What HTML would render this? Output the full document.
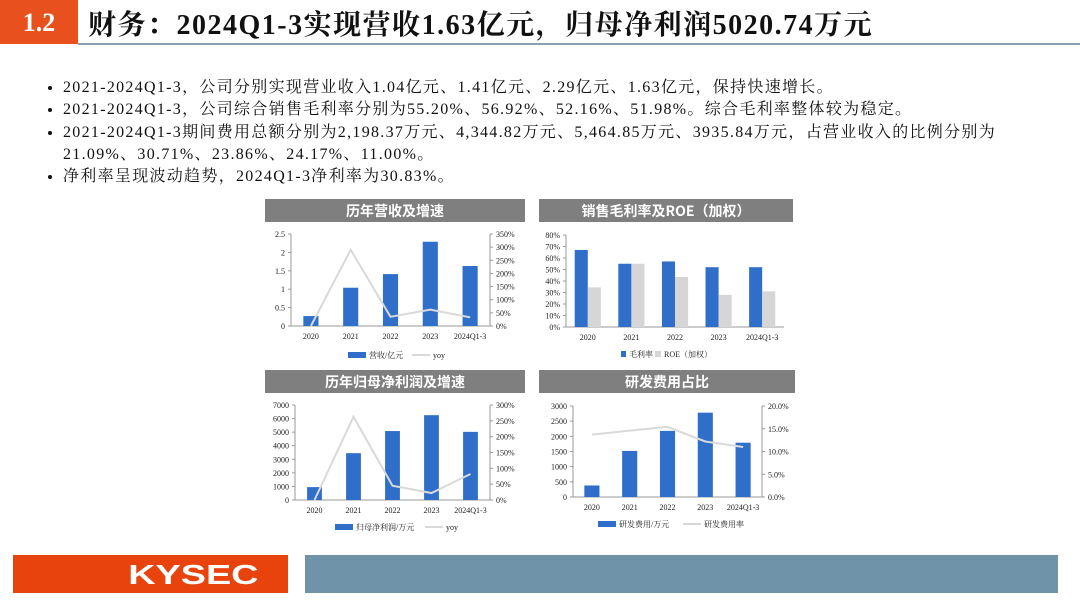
<!DOCTYPE html>
<html><head><meta charset="utf-8">
<style>
body{margin:0;width:1080px;height:607px;overflow:hidden;background:#fff;position:relative;font-family:"Liberation Serif","Noto Serif CJK SC",serif}
.hdr{position:absolute;left:0;top:0;width:78px;height:44px;background:#e8501e;color:#fff;font:bold 26px "Liberation Serif",serif;text-align:center;line-height:46px}
.title{position:absolute;left:88px;top:3px;font:bold 28px "Liberation Serif","Noto Serif CJK SC",serif;letter-spacing:1.5px;color:#111;white-space:nowrap}
.rule{position:absolute;left:78px;top:43px;width:1002px;height:2px;background:#8aa0b0}
ul{position:absolute;left:35px;top:77px;margin:0;padding:0 0 0 28px;width:1040px;font-size:16px;letter-spacing:1.3px;line-height:22.3px;color:#111;white-space:nowrap}
li{list-style:disc}
.f1{position:absolute;left:13px;top:555px;width:275px;height:38px;background:#e8430c}
.f1 span{position:absolute;right:30px;top:0;color:#fff;font:bold 28px "Liberation Sans",sans-serif;line-height:39px;transform:scaleX(1.35);transform-origin:right center}
.f2{position:absolute;left:305px;top:555px;width:753px;height:38px;background:#6f93a8}
svg{position:absolute;left:0;top:0}
</style></head><body>
<div class="hdr">1.2</div>
<div class="title">财务：2024Q1-3实现营收1.63亿元，归母净利润5020.74万元</div>
<div class="rule"></div>
<ul>
<li>2021-2024Q1-3，公司分别实现营业收入1.04亿元、1.41亿元、2.29亿元、1.63亿元，保持快速增长。</li>
<li>2021-2024Q1-3，公司综合销售毛利率分别为55.20%、56.92%、52.16%、51.98%。综合毛利率整体较为稳定。</li>
<li>2021-2024Q1-3期间费用总额分别为2,198.37万元、4,344.82万元、5,464.85万元、3935.84万元，占营业收入的比例分别为<br>21.09%、30.71%、23.86%、24.17%、11.00%。</li>
<li>净利率呈现波动趋势，2024Q1-3净利率为30.83%。</li>
</ul>
<svg id="charts" width="1080" height="607"></svg>
<div class="f1"><span>KYSEC</span></div>
<div class="f2"></div>
<script>
const categories=["2020","2021","2022","2023","2024Q1-3"];
const revenue=[0.27,1.04,1.41,2.29,1.63];
const revenueYoy=[0,290,35,62,33];
const revTicksL=["0","0.5","1","1.5","2","2.5"];
const revTicksR=["0%","50%","100%","150%","200%","250%","300%","350%"];
const grossMargin=[67,55,57,52,52];
const roe=[34.5,55,43.5,28,31];
const marginTicks=["0%","10%","20%","30%","40%","50%","60%","70%","80%"];
const netProfit=[950,3450,5080,6250,5020];
const netYoy=[0,263,45,22,82];
const npTicksL=["0","1000","2000","3000","4000","5000","6000","7000"];
const npTicksR=["0%","50%","100%","150%","200%","250%","300%"];
const rdCost=[380,1520,2180,2780,1790];
const rdRate=[13.7,14.6,15.4,12.2,11.0];
const rdTicksL=["0","500","1000","1500","2000","2500","3000"];
const rdTicksR=["0.0%","5.0%","10.0%","15.0%","20.0%"];

const NS="http://www.w3.org/2000/svg";
const svg=document.getElementById('charts');
const BLUE="#2f6fca",GRAY="#d6d6d6",LINE="#d9d9d9";
function el(tag,attrs,parent,text){const e=document.createElementNS(NS,tag);for(const k in attrs)e.setAttribute(k,attrs[k]);if(text!==undefined)e.textContent=text;(parent||svg).appendChild(e);return e;}
const FONT='"Liberation Serif","Noto Serif CJK SC",serif';

function chart(c){
  const g=el('g',{});
  
  
  const tb=el('rect',{x:c.tx,y:c.ty,width:c.tw,height:23,fill:'#7f7f7f'},g);
  
  
  const tt=el('text',{x:c.tx+c.tw/2,y:c.ty+17,'text-anchor':'middle','font-size':14,'font-weight':'bold',fill:'#fff','font-family':'"Noto Sans CJK SC",sans-serif'},g,c.title);
  
  
  const {x0,x1,y0,y1}=c;
  const lmax=c.lmax, rmax=c.rmax;
  const yL=v=>y0-(v/lmax)*(y0-y1);
  const yR=v=>y0-(v/rmax)*(y0-y1);
  const cw=(x1-x0)/categories.length;
  const cx=i=>x0+cw*(i+0.5);
  el('line',{x1:x0,y1:y1,x2:x0,y2:y0,stroke:'#999','stroke-width':1},g);
  el('line',{x1:x0,y1:y0,x2:x1,y2:y0,stroke:'#999','stroke-width':1},g);
  c.ticksL.forEach((t,i)=>{const y=y0-i*(y0-y1)/(c.ticksL.length-1);
    el('line',{x1:x0-3,y1:y,x2:x0,y2:y,stroke:'#999'},g);
    const tx=el('text',{x:x0-6,y:y+3,'text-anchor':'end','font-size':8,fill:'#222','font-family':FONT},g,t);
    
    });
  if(c.ticksR){
    el('line',{x1:x1,y1:y1,x2:x1,y2:y0,stroke:'#999'},g);
    c.ticksR.forEach((t,i)=>{const y=y0-i*(y0-y1)/(c.ticksR.length-1);
      el('line',{x1:x1,y1:y,x2:x1+3,y2:y,stroke:'#999'},g);
      const tx=el('text',{x:x1+6,y:y+3,'font-size':8,fill:'#222','font-family':FONT},g,t);
      
      });
  }
  categories.forEach((cat,i)=>{
    const tx=el('text',{x:cx(i),y:y0+13,'text-anchor':'middle','font-size':8,fill:'#222','font-family':FONT},g,cat);
    
    
  });
  const bw=cw*c.bwf;
  if(c.bars2){
    c.bars.forEach((v,i)=>{const r=el('rect',{x:cx(i)-bw,y:yL(v),width:bw,height:y0-yL(v),fill:BLUE},g);
      
      });
    c.bars2.forEach((v,i)=>{const r=el('rect',{x:cx(i),y:yL(v),width:bw,height:y0-yL(v),fill:GRAY},g);
      
      });
  } else {
    c.bars.forEach((v,i)=>{const r=el('rect',{x:cx(i)-bw/2,y:yL(v),width:bw,height:y0-yL(v),fill:BLUE},g);
      
      });
  }
  if(c.line){
    const pts=c.line.map((v,i)=>cx(i)+','+yR(v)).join(' ');
    const pl=el('polyline',{points:pts,fill:'none',stroke:LINE,'stroke-width':2},g);
    
    
  }
  const ly=c.ly;
  const lg=el('g',{},g);
  
  
  el('rect',{x:c.lx,y:ly-3,width:c.lsw,height:6,fill:BLUE},lg);
  el('text',{x:c.lx+c.lsw+3,y:ly+3,'font-size':8,fill:'#222','font-family':FONT},lg,c.l1);
  if(c.bars2){
    el('rect',{x:c.lx2,y:ly-3,width:6,height:6,fill:GRAY},lg);
  } else {
    el('line',{x1:c.lx2,y1:ly,x2:c.lx2+18,y2:ly,stroke:LINE,'stroke-width':2},lg);
  }
  el('text',{x:c.lx2+(c.bars2?9:21),y:ly+3,'font-size':8,fill:'#222','font-family':FONT},lg,c.l2);
}

chart({name:'revenue-chart',title:'历年营收及增速',tx:265,ty:199,tw:260,x0:291,x1:490,y0:326,y1:234,lmax:2.5,rmax:350,
  ticksL:revTicksL,ticksR:revTicksR,bars:revenue,line:revenueYoy,bwf:0.38,ly:355,lx:348,lsw:18,l1:'营收/亿元',lx2:412,l2:'yoy'});
chart({name:'margin-chart',title:'销售毛利率及ROE（加权）',tx:539,ty:199,tw:254,x0:566,x1:784,y0:327,y1:235,lmax:80,
  ticksL:marginTicks,bars:grossMargin,bars2:roe,bwf:0.3,ly:354,lx:621,lsw:5,l1:'毛利率',lx2:655,l2:'ROE（加权）'});
chart({name:'net-profit-chart',title:'历年归母净利润及增速',tx:265,ty:370,tw:260,x0:295,x1:490,y0:500,y1:405,lmax:7000,rmax:300,
  ticksL:npTicksL,ticksR:npTicksR,bars:netProfit,line:netYoy,bwf:0.38,ly:527,lx:335,lsw:18,l1:'归母净利润/万元',lx2:425,l2:'yoy'});
chart({name:'rd-chart',title:'研发费用占比',tx:539,ty:370,tw:256,x0:573,x1:762,y0:497,y1:406,lmax:3000,rmax:20,
  ticksL:rdTicksL,ticksR:rdTicksR,bars:rdCost,line:rdRate,bwf:0.4,ly:524,lx:598,lsw:18,l1:'研发费用/万元',lx2:683,l2:'研发费用率'});
</script>
</body></html>
